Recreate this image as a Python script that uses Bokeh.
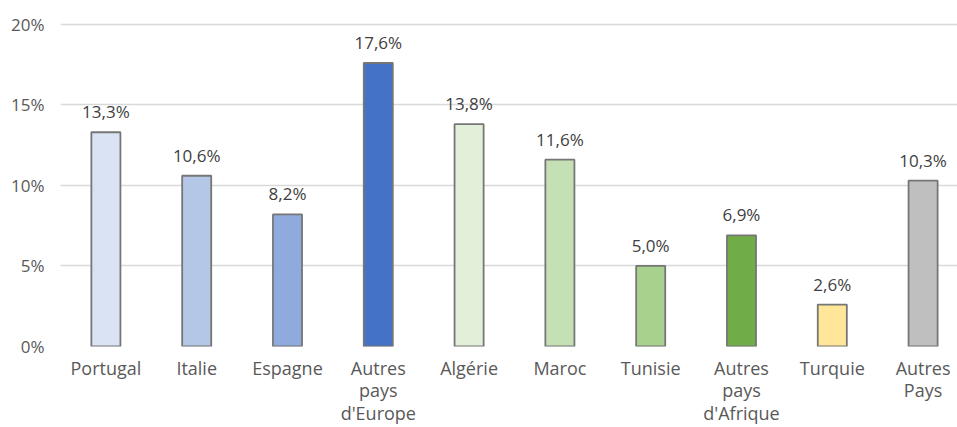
from bokeh.plotting import figure
from bokeh.models import ColumnDataSource, Range1d, FixedTicker, LabelSet
from bokeh.core.properties import value
from bokeh.embed import file_html
from bokeh.resources import INLINE

categories = ["Portugal", "Italie", "Espagne", "Autres\npays\nd'Europe", "Algérie",
              "Maroc", "Tunisie", "Autres\npays\nd'Afrique", "Turquie", "Autres\nPays"]
values = [13.3, 10.6, 8.2, 17.6, 13.8, 11.6, 5.0, 6.9, 2.6, 10.3]
colors = ["#dae3f3", "#b4c7e7", "#8faadc", "#4472c4", "#e2f0d9",
          "#c5e0b4", "#a9d18e", "#70ad47", "#ffe699", "#bfbfbf"]
y_ticks = [0, 5, 10, 15, 20]

FONT = "Open Sans"
TXT = "#595959"

xs = list(range(len(categories)))
labels = [f"{v:.1f}%".replace(".", ",") for v in values]
src = ColumnDataSource(dict(x=xs, top=values, color=colors, label=labels))

p = figure(width=957, height=427, output_backend="svg", toolbar_location=None,
           x_range=Range1d(-0.5, 9.379), y_range=Range1d(0, 20.3),
           min_border_left=60, min_border_right=0, min_border_top=19, min_border_bottom=80)
p.outline_line_color = None
p.background_fill_color = "white"
p.border_fill_color = "white"

p.vbar(x="x", top="top", width=0.32, bottom=0, fill_color="color",
       line_color="#767676", line_width=1.8, source=src)

p.add_layout(LabelSet(x="x", y="top", text="label", source=src, text_align="center",
                      text_baseline="bottom", y_offset=9, text_color="#404040",
                      text_font=value(FONT), text_font_size="17px"))

p.xgrid.visible = False
p.ygrid.grid_line_color = "#d9d9d9"
p.ygrid.grid_line_width = 1.5
p.ygrid.ticker = FixedTicker(ticks=y_ticks)

p.yaxis.ticker = FixedTicker(ticks=y_ticks)
p.yaxis.major_label_overrides = {t: f"{t}%" for t in y_ticks}
p.yaxis.axis_line_color = None
p.yaxis.major_tick_line_color = None
p.yaxis.minor_tick_line_color = None
p.yaxis.major_tick_out = 0
p.yaxis.major_tick_in = 0
p.yaxis.major_label_standoff = 16
p.yaxis.major_label_text_color = TXT
p.yaxis.major_label_text_font = FONT
p.yaxis.major_label_text_font_size = "17px"

p.xaxis.ticker = FixedTicker(ticks=xs)
p.xaxis.major_label_overrides = {i: c for i, c in enumerate(categories)}
p.xaxis.axis_line_color = None
p.xaxis.major_tick_line_color = None
p.xaxis.minor_tick_line_color = None
p.xaxis.major_tick_out = 0
p.xaxis.major_tick_in = 0
p.xaxis.major_label_standoff = 9
p.xaxis.major_label_text_color = TXT
p.xaxis.major_label_text_font = FONT
p.xaxis.major_label_text_font_size = "18px"
p.xaxis.major_label_text_line_height = 0.94

open("out.html", "w").write(file_html(p, INLINE))
